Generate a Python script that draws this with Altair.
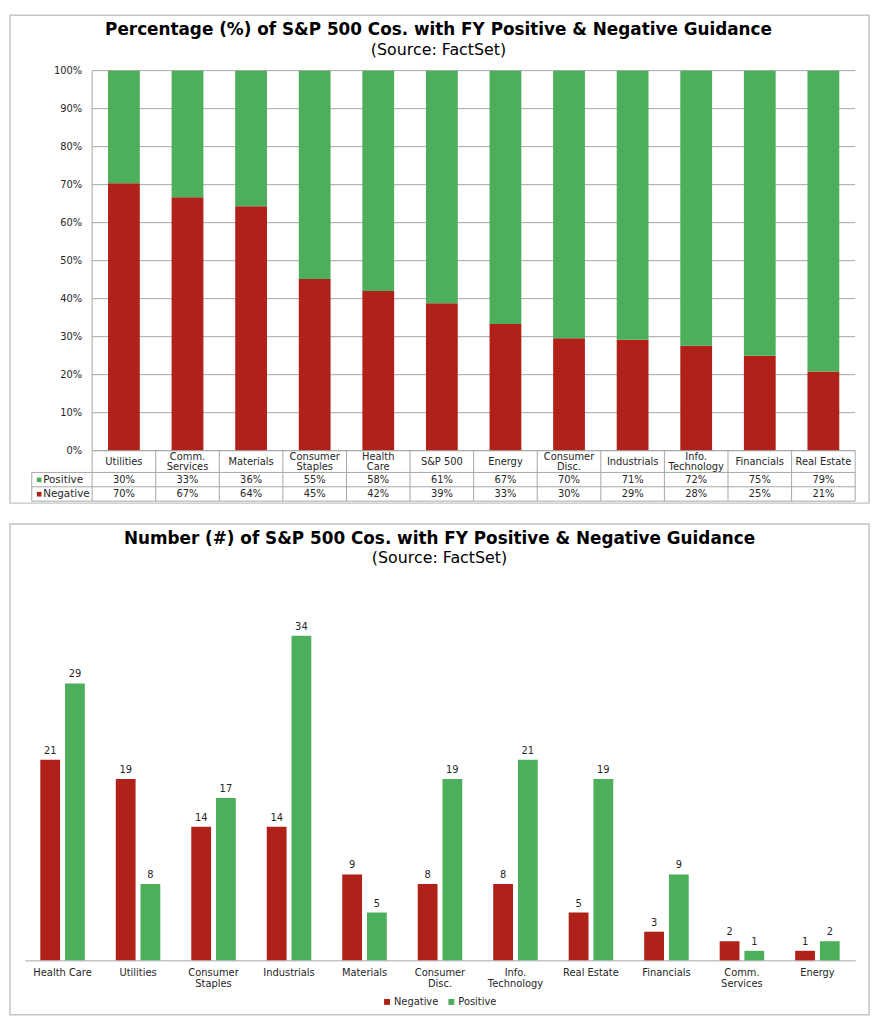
import altair as alt
import pandas as pd

# ---------------- data: top chart (percentages) ----------------
pct_categories = ["Utilities", "Comm.\nServices", "Materials", "Consumer\nStaples",
                  "Health\nCare", "S&P 500", "Energy", "Consumer\nDisc.", "Industrials",
                  "Info.\nTechnology", "Financials", "Real Estate"]
pct_negative = [70.4, 66.7, 64.3, 45.2, 42.0, 38.8, 33.3, 29.6, 29.2, 27.6, 25.0, 20.8]
pct_positive = [29.6, 33.3, 35.7, 54.8, 58.0, 61.2, 66.7, 70.4, 70.8, 72.4, 75.0, 79.2]
pct_positive_labels = ["30%", "33%", "36%", "55%", "58%", "61%", "67%", "70%", "71%", "72%", "75%", "79%"]
pct_negative_labels = ["70%", "67%", "64%", "45%", "42%", "39%", "33%", "30%", "29%", "28%", "25%", "21%"]
y_ticks = [0, 0.1, 0.2, 0.3, 0.4, 0.5, 0.6, 0.7, 0.8, 0.9, 1.0]
y_tick_labels = ["0%", "10%", "20%", "30%", "40%", "50%", "60%", "70%", "80%", "90%", "100%"]

# ---------------- data: bottom chart (counts) ----------------
num_categories = ["Health Care", "Utilities", "Consumer\nStaples", "Industrials", "Materials",
                  "Consumer\nDisc.", "Info.\nTechnology", "Real Estate", "Financials",
                  "Comm.\nServices", "Energy"]
num_negative = [21, 19, 14, 14, 9, 8, 8, 5, 3, 2, 1]
num_positive = [29, 8, 17, 34, 5, 19, 21, 19, 9, 1, 2]

series = ["Negative", "Positive"]
title_top = "Percentage (%) of S&P 500 Cos. with FY Positive & Negative Guidance"
title_bottom = "Number (#) of S&P 500 Cos. with FY Positive & Negative Guidance"
subtitle = "(Source: FactSet)"

RED = "#AF2119"
GREEN = "#4DAE5B"
LINE = "#A6A6A6"
BOX = "#C4C4C4"
TXT = "#262626"
FONT = "DejaVu Sans"

color_scale = alt.Scale(domain=series, range=[RED, GREEN])
one = pd.DataFrame({"k": [0]})

# ---------------- top chart ----------------
W, H1 = 839, 384
PL = 68

pct_long = pd.DataFrame(
    [{"cat": c, "series": "Negative", "value": v, "ord": 0} for c, v in zip(pct_categories, pct_negative)]
    + [{"cat": c, "series": "Positive", "value": v, "ord": 1} for c, v in zip(pct_categories, pct_positive)]
)
pct_table = pd.DataFrame({"cat": pct_categories, "pos": pct_positive_labels, "neg": pct_negative_labels})
ticks_df = pd.DataFrame({"tick": y_ticks, "label": y_tick_labels})

x1 = alt.X("cat:N", sort=pct_categories,
           scale=alt.Scale(paddingInner=0, paddingOuter=0.5292, align=1), axis=None)
y1 = alt.Y("tick:Q", scale=alt.Scale(domain=[0, 1]), axis=None)

box1 = alt.Chart(one).mark_rect(fillOpacity=0, stroke=BOX, strokeWidth=1.5).encode(
    x=alt.value(-15), x2=alt.value(853), y=alt.value(-56), y2=alt.value(H1 + 53))
t1 = alt.Chart(one).mark_text(font=FONT, fontSize=17, fontWeight="bold", color="black",
                              baseline="alphabetic").encode(
    x=alt.value(418), y=alt.value(-36), text=alt.value(title_top))
s1 = alt.Chart(one).mark_text(font=FONT, fontSize=16, color="black", baseline="alphabetic").encode(
    x=alt.value(418), y=alt.value(-16), text=alt.value(subtitle))

grid1 = alt.Chart(ticks_df).mark_rule(color=LINE).encode(
    x=alt.value(PL), x2=alt.value(W), y=y1)
ylab1 = alt.Chart(ticks_df).mark_text(font=FONT, fontSize=10, color=TXT, align="right",
                                      baseline="middle").encode(
    x=alt.value(PL - 10), y=y1, text="label:N")
ydom1 = alt.Chart(one).mark_rule(color=LINE).encode(
    x=alt.value(PL), y=alt.value(0), y2=alt.value(H1))

bars1 = alt.Chart(pct_long).mark_bar(width=alt.RelativeBandSize(0.5)).encode(
    x=x1,
    y=alt.Y("value:Q", stack="normalize", scale=alt.Scale(domain=[0, 1]), axis=None),
    color=alt.Color("series:N", scale=color_scale, legend=None),
    order=alt.Order("ord:Q"),
)

vlines = alt.Chart(pct_table).mark_rule(color=LINE).encode(
    x=alt.X("cat:N", sort=pct_categories, bandPosition=0, axis=None),
    y=alt.value(H1), y2=alt.value(H1 + 51))
rline = alt.Chart(one).mark_rule(color=LINE).encode(
    x=alt.value(W), y=alt.value(H1), y2=alt.value(H1 + 51))
lline = alt.Chart(one).mark_rule(color=LINE).encode(
    x=alt.value(7), y=alt.value(H1 + 22), y2=alt.value(H1 + 51))
h0 = alt.Chart(one).mark_rule(color=LINE).encode(
    x=alt.value(PL), x2=alt.value(W), y=alt.value(H1))
h1 = alt.Chart(one).mark_rule(color=LINE).encode(
    x=alt.value(7), x2=alt.value(W), y=alt.value(H1 + 22))
h2 = alt.Chart(one).mark_rule(color=LINE).encode(
    x=alt.value(7), x2=alt.value(W), y=alt.value(H1 + 36.5))
h3 = alt.Chart(one).mark_rule(color=LINE).encode(
    x=alt.value(7), x2=alt.value(W), y=alt.value(H1 + 51))

head_single = alt.Chart(pct_table).transform_filter("indexof(datum.cat, '\\n') < 0").mark_text(
    font=FONT, fontSize=10, color=TXT, baseline="middle").encode(
    x=x1, y=alt.value(H1 + 11.5), text="cat:N")
head_multi = alt.Chart(pct_table).transform_filter("indexof(datum.cat, '\\n') >= 0").mark_text(
    font=FONT, fontSize=10, color=TXT, lineBreak="\n", lineHeight=10.5, baseline="middle").encode(
    x=x1, y=alt.value(H1 + 6.5), text="cat:N")
posv = alt.Chart(pct_table).mark_text(font=FONT, fontSize=10, color=TXT, baseline="middle").encode(
    x=x1, y=alt.value(H1 + 29.5), text="pos:N")
negv = alt.Chart(pct_table).mark_text(font=FONT, fontSize=10, color=TXT, baseline="middle").encode(
    x=x1, y=alt.value(H1 + 44), text="neg:N")

leg_pos_sq = alt.Chart(one).mark_square(size=22, opacity=1, color=GREEN).encode(
    x=alt.value(14.5), y=alt.value(H1 + 29.5))
leg_neg_sq = alt.Chart(one).mark_square(size=22, opacity=1, color=RED).encode(
    x=alt.value(14.5), y=alt.value(H1 + 44))
leg_pos_tx = alt.Chart(one).mark_text(font=FONT, fontSize=10.5, color=TXT, align="left",
                                      baseline="middle").encode(
    x=alt.value(18.5), y=alt.value(H1 + 29.5), text=alt.value(series[1]))
leg_neg_tx = alt.Chart(one).mark_text(font=FONT, fontSize=10.5, color=TXT, align="left",
                                      baseline="middle").encode(
    x=alt.value(18.5), y=alt.value(H1 + 44), text=alt.value(series[0]))

top = alt.layer(box1, t1, s1, grid1, ylab1, ydom1, bars1, vlines, rline, lline, h0, h1, h2, h3,
                head_single, head_multi, posv, negv, leg_pos_sq, leg_neg_sq, leg_pos_tx,
                leg_neg_tx).properties(width=W, height=H1)

# ---------------- bottom chart ----------------
H2 = 386

num_long = pd.DataFrame(
    [{"cat": c, "series": "Negative", "value": v} for c, v in zip(num_categories, num_negative)]
    + [{"cat": c, "series": "Positive", "value": v} for c, v in zip(num_categories, num_positive)]
)

x2 = alt.X("cat:N", sort=num_categories, scale=alt.Scale(paddingInner=0, paddingOuter=0),
           axis=alt.Axis(title=None, labelExpr="split(datum.label, '\\n')", labelAngle=0,
                         ticks=False, domainColor=LINE, labelFont=FONT, labelFontSize=10,
                         labelColor=TXT, labelPadding=7, labelLineHeight=11, labelBaseline="top"))
xo2 = alt.XOffset("series:N", sort=series, scale=alt.Scale(paddingInner=0.2, paddingOuter=0.626))
y2 = alt.Y("value:Q", scale=alt.Scale(domain=[0, 40]), axis=None)

box2 = alt.Chart(one).mark_rect(fillOpacity=0, stroke=BOX, strokeWidth=1.5).encode(
    x=alt.value(-15), x2=alt.value(853), y=alt.value(-55), y2=alt.value(H2 + 55))
t2 = alt.Chart(one).mark_text(font=FONT, fontSize=17, fontWeight="bold", color="black",
                              baseline="alphabetic").encode(
    x=alt.value(419), y=alt.value(-35), text=alt.value(title_bottom))
s2 = alt.Chart(one).mark_text(font=FONT, fontSize=16, color="black", baseline="alphabetic").encode(
    x=alt.value(419), y=alt.value(-15), text=alt.value(subtitle))

bars2 = alt.Chart(num_long).mark_bar().encode(
    x=x2, xOffset=xo2, y=y2,
    color=alt.Color("series:N", scale=color_scale,
                    legend=alt.Legend(title=None, orient="none", legendX=361, legendY=H2 + 37,
                                      direction="horizontal", symbolType="square", symbolSize=36,
                                      symbolStrokeWidth=0, labelFont=FONT, labelFontSize=10,
                                      labelColor=TXT, columnPadding=8, labelOffset=2, padding=0)),
)
lab2 = alt.Chart(num_long).mark_text(font=FONT, fontSize=10, color=TXT, baseline="bottom", dy=-4).encode(
    x=x2, xOffset=xo2, y=y2, text="value:Q")

bottom = alt.layer(box2, t2, s2, bars2, lab2).properties(width=W, height=H2)

chart = alt.vconcat(top, bottom, spacing=17).resolve_scale(color="independent").properties(
    padding=0).configure(font=FONT, view=alt.ViewConfig(stroke="transparent"))

chart.save("out.html", embed_options={"renderer": "svg", "actions": False})
